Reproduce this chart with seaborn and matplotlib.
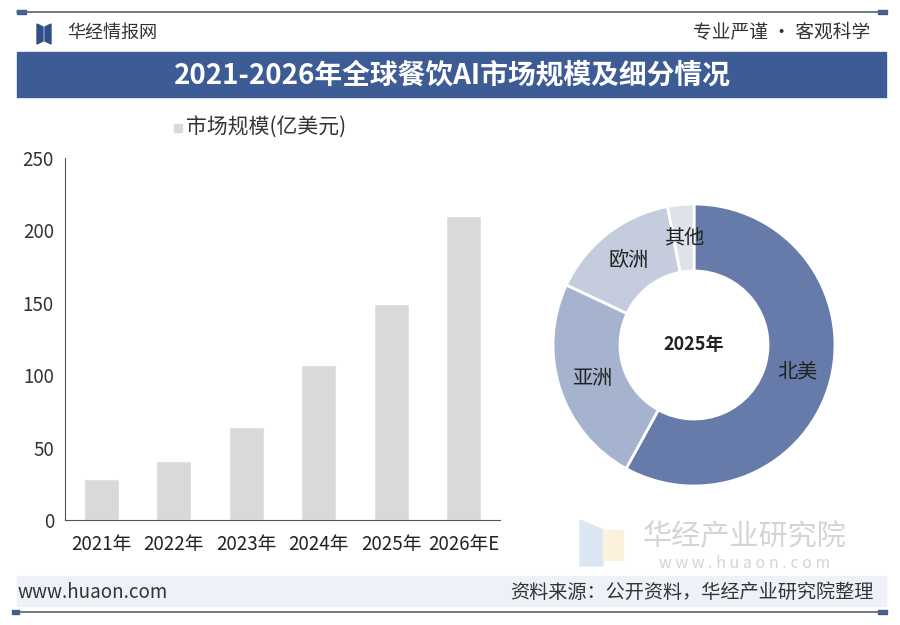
import matplotlib
matplotlib.use("Agg")
import matplotlib.pyplot as plt
import seaborn as sns
import pandas as pd
from matplotlib.patches import Rectangle, Polygon

# data
years = ["2021年", "2022年", "2023年", "2024年", "2025年", "2026年E"]
market_size = [28, 41, 64, 107, 149, 210]
regions = ["北美", "亚洲", "欧洲", "其他"]
region_share = [58, 24, 15, 3]
region_colors = ["#667ba9", "#a6b3ce", "#c5ccde", "#dfe2ea"]

sns.set_style("white")
plt.rcParams['font.family'] = ['Noto Sans CJK SC', 'DejaVu Sans']
plt.rcParams['axes.unicode_minus'] = False

fig = plt.figure(figsize=(9, 6.25), dpi=100)
fig.patch.set_facecolor("white")

def fx(px):
    return px / 900

def fy(py):
    return 1 - py / 625

# header line + caps
fig.add_artist(plt.Line2D([fx(17), fx(887)], [fy(12), fy(12)], color="#5a6472", lw=1.2))
fig.add_artist(Rectangle((fx(17), fy(14)), fx(9), 4 / 625, color="#3d5b94"))
fig.add_artist(Rectangle((fx(878), fy(14)), fx(9), 4 / 625, color="#3d5b94"))

# logo
fig.add_artist(Polygon([(fx(37), fy(24)), (fx(43), fy(27)), (fx(43), fy(41)), (fx(37), fy(44))],
                       closed=True, color="#2f4f86"))
fig.add_artist(Polygon([(fx(45), fy(27)), (fx(51), fy(24)), (fx(51), fy(44)), (fx(45), fy(41))],
                       closed=True, color="#2f4f86"))
fig.text(fx(67), fy(33), "华经情报网", fontsize=13, color="#333333", va="center", ha="left")
fig.text(fx(870), fy(33), "专业严谨 • 客观科学", fontsize=13.5, color="#333333", va="center", ha="right")

# title banner
fig.add_artist(Rectangle((fx(17), fy(97)), fx(869), 45 / 625, color="#3d5b94"))
fig.text(fx(452), fy(75), "2021-2026年全球餐饮AI市场规模及细分情况", fontsize=20,
         fontweight="bold", color="white", ha="center", va="center")

# watermark bottom right
fig.add_artist(Polygon([(fx(580), fy(520)), (fx(603), fy(530)), (fx(603), fy(566)), (fx(580), fy(566))],
                       closed=True, color="#dbe6f4"))
fig.add_artist(Rectangle((fx(603), fy(560)), fx(20), 30 / 625, color="#fbf1dc"))
fig.text(fx(745), fy(537), "华经产业研究院", fontsize=21, color="#d4d4d4", ha="center", va="center")
fig.text(fx(745), fy(563), "w w w . h u a o n . c o m", fontsize=11.5, color="#d4d4d4", ha="center", va="center")

# footer band
fig.add_artist(Rectangle((fx(17), fy(606)), fx(869), 30 / 625, color="#eef2f8"))
fig.text(fx(18), fy(592), "www.huaon.com", fontsize=13.5, color="#333333", ha="left", va="center")
fig.text(fx(873), fy(592), "资料来源：公开资料，华经产业研究院整理", fontsize=13.8, color="#333333",
         ha="right", va="center")
fig.add_artist(plt.Line2D([fx(17), fx(887)], [fy(612), fy(612)], color="#5a6472", lw=1.2))
fig.add_artist(Rectangle((fx(878), fy(614)), fx(9), 4 / 625, color="#3d5b94"))
fig.add_artist(Rectangle((fx(12), fy(614)), fx(7), 4 / 625, color="#3d5b94"))

# legend
fig.add_artist(Rectangle((fx(174), fy(132)), fx(8), 8 / 625, color="#d9d9d9"))
fig.text(fx(186), fy(127), "市场规模(亿美元)", fontsize=15, color="#333333", ha="left", va="center")

# bar chart
ax = fig.add_axes([fx(65), fy(520), fx(435), 362 / 625])
ax.set_facecolor("none")
df = pd.DataFrame({"year": years, "size": market_size})
sns.barplot(data=df, x="year", y="size", color="#d9d9d9", width=0.48, ax=ax, saturation=1)
ax.set_ylim(0, 250)
ax.set_xlim(-0.5, 5.5)
ax.set_yticks([0, 50, 100, 150, 200, 250])
ax.set_xlabel("")
ax.set_ylabel("")
for s in ["top", "right"]:
    ax.spines[s].set_visible(False)
ax.spines["left"].set_color("#555555")
ax.spines["bottom"].set_color("#555555")
ax.tick_params(axis="y", length=0, labelsize=13.5, colors="#333333", pad=8)
ax.tick_params(axis="x", which="major", length=0, labelsize=13.5, colors="#222222", pad=10)
ax.set_xticks([i - 0.5 for i in range(len(years) + 1)], minor=True)
ax.tick_params(axis="x", which="minor", length=4, color="#555555")

# donut
ax2 = fig.add_axes([fx(553), fy(486), fx(282), 282 / 625])
wedges, texts = ax2.pie(region_share, labels=regions, colors=region_colors, startangle=90,
                        counterclock=False, labeldistance=0.76,
                        wedgeprops=dict(width=0.475, edgecolor="white", linewidth=2))
for t in texts:
    t.set_ha("center")
    t.set_va("center")
    t.set_fontsize(14.5)
    t.set_color("#222222")
ax2.text(0, 0, "2025年", ha="center", va="center", fontsize=13, fontweight="bold", color="#222222")
ax2.set_xlim(-1, 1)
ax2.set_ylim(-1, 1)
ax2.set_aspect("equal")

fig.savefig("out.png", dpi=100)
